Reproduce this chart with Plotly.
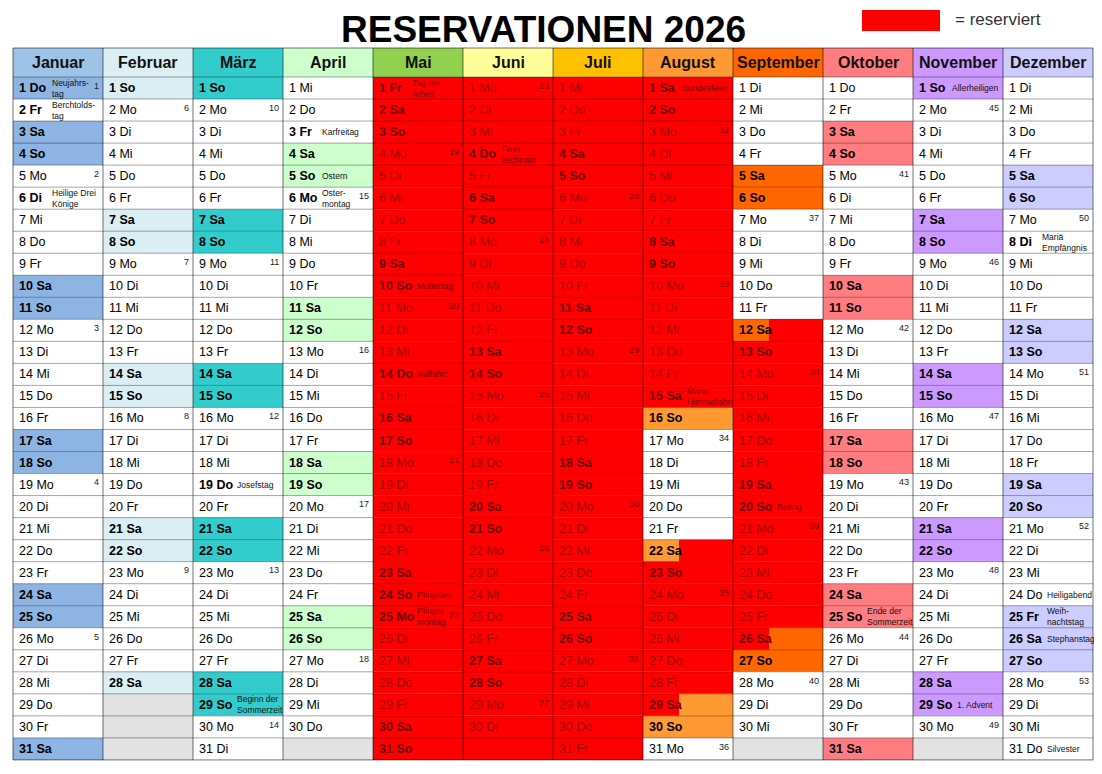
import datetime as dt
import plotly.graph_objects as go

YEAR = 2026
months = ["Januar", "Februar", "März", "April", "Mai", "Juni", "Juli", "August",
          "September", "Oktober", "November", "Dezember"]
header_colors = ["#9dc3e6", "#dbeef4", "#33cccc", "#ccffcc", "#92d050", "#ffff99",
                 "#ffc000", "#ff9933", "#ff6600", "#ff7c80", "#cc99ff", "#ccccff"]
weekend_colors = ["#8eb4e3", "#dbeef4", "#33cccc", "#ccffcc", "#ff0000", "#ff0000",
                  "#ff0000", "#ff9933", "#ff6600", "#ff7c80", "#cc99ff", "#ccccff"]
weekday_names = ["Mo", "Di", "Mi", "Do", "Fr", "Sa", "So"]

# (month, day): (text, bold, coloured like weekend)
holidays = {
    (1, 1): ("Neujahrs-<br>tag", True, True),
    (1, 2): ("Berchtolds-<br>tag", True, False),
    (1, 6): ("Heilige Drei<br>Könige", True, False),
    (3, 19): ("Josefstag", True, False),
    (3, 29): ("Beginn der<br>Sommerzeit", True, True),
    (4, 3): ("Karfreitag", True, False),
    (4, 5): ("Ostern", True, True),
    (4, 6): ("Oster-<br>montag", True, False),
    (5, 1): ("Tag der<br>Arbeit", True, True),
    (5, 10): ("Muttertag", True, True),
    (5, 14): ("Auffahrt", True, True),
    (5, 24): ("Pfingsten", True, True),
    (5, 25): ("Pfingst-<br>montag", True, True),
    (6, 4): ("Fron-<br>leichnam", True, True),
    (8, 1): ("Bundesfeier", True, True),
    (8, 15): ("Maria<br>Himmelfahrt", True, True),
    (9, 20): ("Bettag", True, True),
    (10, 25): ("Ende der<br>Sommerzeit", True, True),
    (11, 1): ("Allerheiligen", True, True),
    (11, 29): ("1. Advent", True, True),
    (12, 8): ("Mariä<br>Empfängnis", True, False),
    (12, 24): ("Heiligabend", False, False),
    (12, 25): ("Weih-<br>nachtstag", True, True),
    (12, 26): ("Stephanstag", True, True),
    (12, 31): ("Silvester", False, False),
}

# reservations: (month, first_day, start_fraction, last_day, end_fraction)
reservations = [
    (5, 1, 0.0, 31, 1.0), (6, 1, 0.0, 31, 1.0), (7, 1, 0.0, 31, 1.0),
    (8, 1, 0.0, 15, 1.0), (8, 22, 0.4, 29, 0.4),
    (9, 12, 0.4, 26, 0.4),
]

OFF = 8.0      # page body margin
W, H = 1102 - 2 * OFF, 774 - 2 * OFF
COLW = 90.0
ROWH = 22.03
X0PX, Y0PX = 13.0 - OFF, 77.0 - OFF
HDR = 29.0 / ROWH

def px(p):
    return p / COLW

shapes, ann = [], []

def rect(x0, x1, y0, y1, fill):
    shapes.append(dict(type="rect", xref="x", yref="y", x0=x0, x1=x1, y0=y0, y1=y1,
                       fillcolor=fill, line=dict(width=0), layer="below"))

red_seg = {}
for m, d1, f1, d2, f2 in reservations:
    for d in range(d1, d2 + 1):
        a = f1 if d == d1 else 0.0
        b = f2 if d == d2 else 1.0
        red_seg.setdefault((m, d), []).append((a, b))

for mi, name in enumerate(months):
    m = mi + 1
    rect(mi, mi + 1, -HDR, 0, header_colors[mi])
    ann.append(dict(x=mi + 0.5, y=-HDR / 2, text=f"<b>{name}</b>", showarrow=False,
                    font=dict(size=16, color="#111")))
    for d in range(1, 32):
        try:
            date = dt.date(YEAR, m, d)
        except ValueError:
            date = None
        y0, y1 = d - 1, d
        if date is None:
            rect(mi, mi + 1, y0, y1, "#e2e2e2")
        else:
            wd = date.weekday()
            hol = holidays.get((m, d))
            colored = wd >= 5 or (hol and hol[2])
            rect(mi, mi + 1, y0, y1, weekend_colors[mi] if colored else "#ffffff")
        segs = red_seg.get((m, d), [])
        for a, b in segs:
            rect(mi + a, mi + b, y0, y1, "#ff0000")
        if date is None:
            continue
        bold = wd >= 5 or (hol and hol[1])
        in_red = any(a < 0.1 for a, b in segs)
        col = ("#6a0000" if bold else "#a00000") if in_red else "#000000"
        label = f"{d} {weekday_names[wd]}"
        ann.append(dict(x=mi + px(4), y=d - 0.5, text=f"<b>{label}</b>" if bold else label,
                        xanchor="left", showarrow=False, font=dict(size=12.5, color=col)))
        if hol:
            ann.append(dict(x=mi + px(37 if d < 10 else 42), y=d - 0.5, text=hol[0], xanchor="left",
                            showarrow=False, align="left",
                            font=dict(size=8.5, color="#7a0000" if in_red else "#111")))
        if wd == 0 or (m == 1 and d == 1):
            wk = date.isocalendar()[1]
            ann.append(dict(x=mi + 1 - px(2), y=d - 0.6, text=str(wk), xanchor="right",
                            showarrow=False, font=dict(size=9, color="#7a0000" if in_red else "#222")))

for d in range(0, 31):
    shapes.append(dict(type="line", xref="x", yref="y", x0=0, x1=12, y0=d, y1=d,
                       line=dict(color="rgba(0,0,0,0.35)", width=1)))
for c in range(0, 13):
    shapes.append(dict(type="line", xref="x", yref="y", x0=c, x1=c, y0=-HDR, y1=31,
                       line=dict(color="rgba(0,0,0,0.55)", width=1)))
for yy in (-HDR, 31):
    shapes.append(dict(type="line", xref="x", yref="y", x0=0, x1=12, y0=yy, y1=yy,
                       line=dict(color="rgba(0,0,0,0.55)", width=1)))

def PX(x):
    return (x - OFF) / W

def PY(y):
    return 1 - (y - OFF) / H

shapes.append(dict(type="rect", xref="paper", yref="paper", x0=PX(862), x1=PX(940),
                   y0=PY(31), y1=PY(10), fillcolor="#ff0000", line=dict(width=0)))
ann.append(dict(xref="paper", yref="paper", x=PX(953), y=PY(19), text="= reserviert",
                xanchor="left", yanchor="middle", showarrow=False, font=dict(size=17, color="#333")))
ann.append(dict(xref="paper", yref="paper", x=PX(543), y=PY(29), text="<b>RESERVATIONEN 2026</b>",
                xanchor="center", yanchor="middle", showarrow=False, font=dict(size=37, color="#000")))

fig = go.Figure()
fig.update_layout(
    width=W, height=H, margin=dict(l=0, r=0, t=0, b=0),
    paper_bgcolor="white", plot_bgcolor="white",
    font=dict(family="Liberation Sans, Arial, sans-serif"),
    xaxis=dict(range=[-X0PX / COLW, (W - X0PX) / COLW], visible=False, fixedrange=True),
    yaxis=dict(range=[(H - Y0PX) / ROWH, -Y0PX / ROWH], visible=False, fixedrange=True),
    shapes=shapes, annotations=ann, showlegend=False,
)
fig.write_html("out.html")
